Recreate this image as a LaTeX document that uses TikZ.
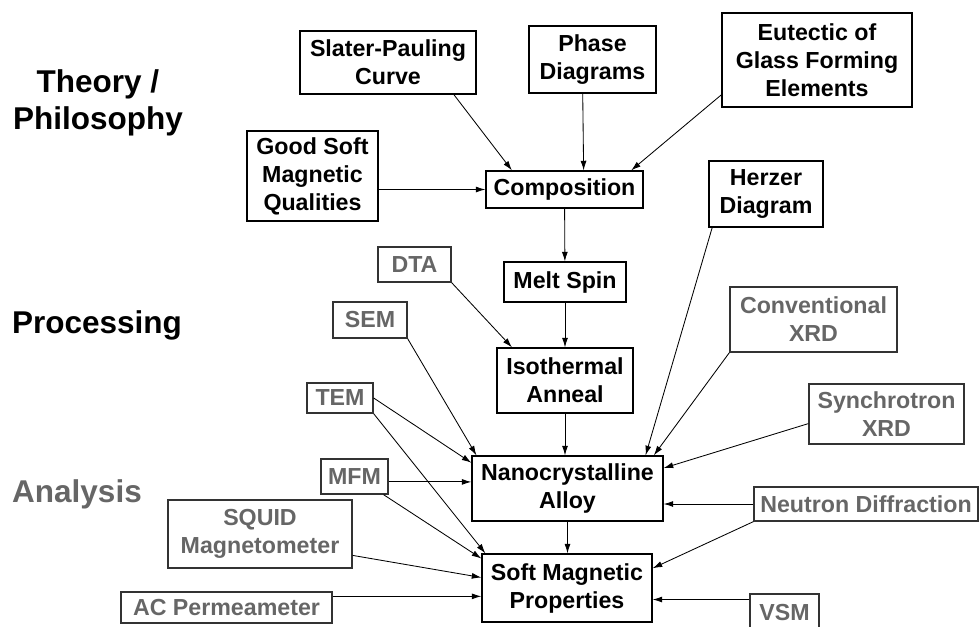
\documentclass[tikz,border=0pt]{standalone}
\usepackage{fontspec}
\setmainfont{Liberation Sans}
\usetikzlibrary{arrows.meta}

\newlength\px
\setlength\px{0.025cm}
\newcommand\boxfont{\fontsize{16.5pt}{19.9pt}\selectfont\bfseries}
\newcommand\headfont{\fontsize{22.4pt}{26.3pt}\selectfont\bfseries}

\tikzset{
  box/.style={draw, line width=0.9pt, align=center, inner sep=0pt, font=\boxfont},
  gbox/.style={box, draw=black!80, text=black!60},
  head/.style={align=center, inner sep=0pt, font=\headfont},
}

\begin{document}
\begin{tikzpicture}[x=1\px, y=-1\px]
        \useasboundingbox (0,0) rectangle (980,626);
        \clip (0,0) rectangle (980,626);

        % row headings
        \node [head] (Th) at (98,103) {Theory /\\Philosophy};
        \node [head] (Pr) at (97,325) {Processing};
        \node [head, text=black!60] (An) at (77,494) {Analysis};

        % theory
        \node [box, minimum width=176\px, minimum height=63\px] (SP) at (388,62.5) {Slater-Pauling\\Curve};
        \node [box, minimum width=127\px, minimum height=67\px] (PD) at (592.5,59.5) {Phase\\Diagrams};
        \node [box, minimum width=190\px, minimum height=94\px] (EG) at (817,60) {Eutectic of\\Glass Forming\\Elements};
        \node [box, minimum width=131\px, minimum height=90\px] (GS) at (312.5,176) {Good Soft\\Magnetic\\Qualities};
        \node [box, minimum width=157\px, minimum height=37\px] (Co) at (564.5,189.5) {Composition};
        \node [box, minimum width=114\px, minimum height=66\px] (HD) at (766,194) {Herzer\\Diagram};

        % processing
        \node [box, minimum width=122\px, minimum height=40\px] (MS) at (565,282) {Melt Spin};
        \node [box, minimum width=136\px, minimum height=65\px] (IA) at (565,380.5) {Isothermal\\Anneal};
        \node [box, minimum width=191\px, minimum height=65\px] (NA) at (567.5,488.5) {Nanocrystalline\\Alloy};
        \node [box, minimum width=170\px, minimum height=68\px] (SM) at (567,588) {Soft Magnetic\\Properties};

        % analysis
        \node [gbox, minimum width=73\px, minimum height=35\px] (DTA) at (414.5,264.5) {DTA};
        \node [gbox, minimum width=74\px, minimum height=36\px] (SEM) at (370,320) {SEM};
        \node [gbox, minimum width=66\px, minimum height=30\px] (TEM) at (340,398) {TEM};
        \node [gbox, minimum width=67\px, minimum height=35\px] (MFM) at (354.5,476.5) {MFM};
        \node [gbox, minimum width=184\px, minimum height=68\px] (SQ) at (260,534) {SQUID\\Magnetometer};
        \node [gbox, minimum width=211\px, minimum height=31\px] (AC) at (226.5,607.5) {AC Permeameter};
        \node [gbox, minimum width=167\px, minimum height=65\px] (CX) at (813.5,319.5) {Conventional\\XRD};
        \node [gbox, minimum width=155\px, minimum height=60\px] (SX) at (886.5,414) {Synchrotron\\XRD};
        \node [gbox, minimum width=224\px, minimum height=34\px] (ND) at (866,504) {Neutron Diffraction};
        \node [gbox, minimum width=69\px, minimum height=38\px] (VSM) at (784.5,613) {VSM};

        \begin{scope}[every path/.style={line width=0.6pt, ->, >={Latex[length=2.4mm,width=1.5mm]}}]
                \path (SP.-26) edge (Co.160);
                \path (PD.254) edge (Co.45);
                \path (EG.200) edge (Co.16);
                \path (GS.east |- Co.west) edge (Co.west);
                \path (Co) edge (MS);
                \path (MS) edge (IA);
                \path (DTA.south east) edge (IA.148);
                \path (IA.south) edge (IA.south |- NA.north);
                \path (HD.212) edge (NA.23);
                \path (CX.south west) edge (NA.21);
                \path (SEM.south east) edge (NA.160);
                \path (TEM.east) edge (NA.165);
                \path (TEM.south east) edge (SM.157);
                \path (MFM.-9) edge (MFM.-9 -| NA.west);
                \path (MFM.-32) edge (SM.161);
                \path (SX.187) edge (NA.12);
                \path (ND.west) edge (ND.west -| NA.east);
                \path (ND.south west) edge (SM.13);
                \path (NA.south) edge (NA.south |- SM.north);
                \path (SQ.-13) edge (SM.173);
                \path (AC.6) edge (AC.6 -| SM.west);
                \path (VSM.159) edge (VSM.159 -| SM.east);
        \end{scope}
\end{tikzpicture}
\end{document}
